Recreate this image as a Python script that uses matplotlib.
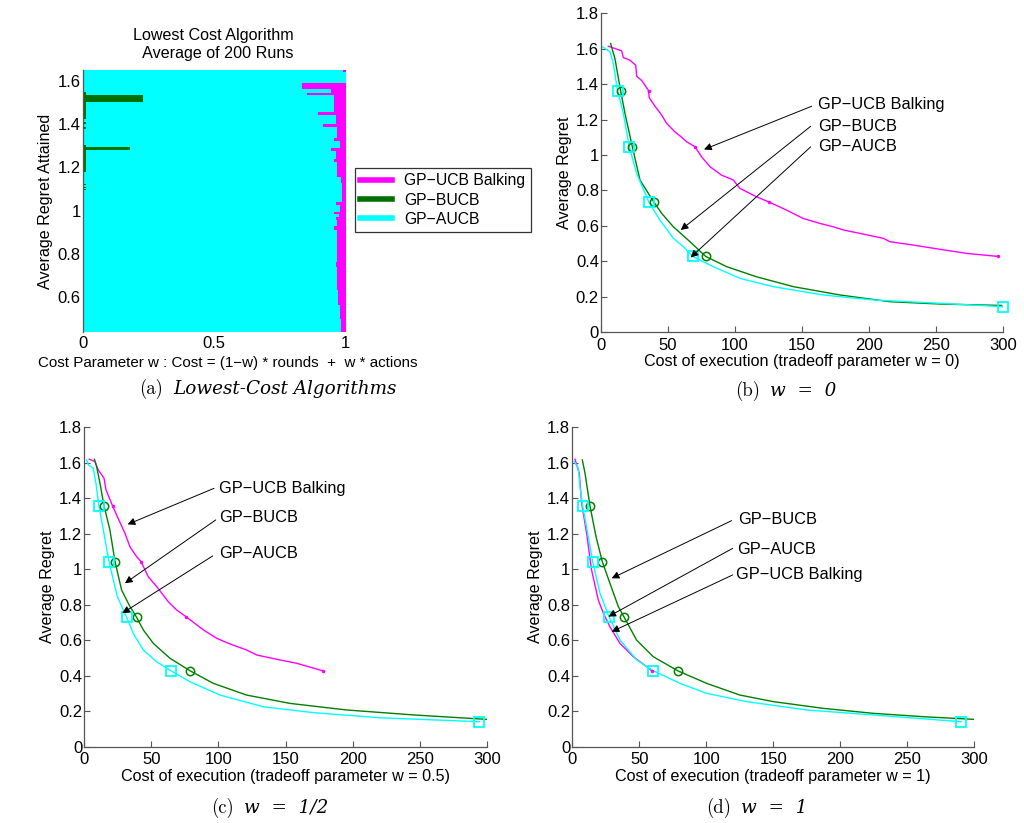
import matplotlib
matplotlib.use("Agg")
import matplotlib.pyplot as plt
import numpy as np
from matplotlib.colors import ListedColormap
from matplotlib.lines import Line2D
from matplotlib.ticker import FixedLocator, FormatStrFormatter

plt.rcParams['font.family'] = ['Liberation Sans', 'DejaVu Sans']

MAGENTA = '#ff00ff'
GREEN = '#008000'
CYAN = '#00ffff'
names = ['GP\u2212UCB Balking', 'GP\u2212BUCB', 'GP\u2212AUCB']

# ---- (a) lowest-cost map: rows of regret, w where magenta starts / green ends
regret_min, regret_max = 0.438, 1.651
magenta_rows = [  # (regret lo, regret hi, w where balking becomes cheapest)
    (1.643, 1.651, 0.990), (1.565, 1.590, 0.835), (1.545, 1.565, 0.943),
    (1.535, 1.545, 0.854), (1.460, 1.535, 0.953), (1.443, 1.460, 0.894),
    (1.400, 1.443, 0.962), (1.386, 1.400, 0.914), (1.337, 1.386, 0.968),
    (1.324, 1.337, 0.953), (1.290, 1.324, 0.978), (1.277, 1.290, 0.943),
    (1.237, 1.277, 0.962), (1.225, 1.237, 0.953), (1.180, 1.225, 0.968),
    (1.156, 1.180, 0.970), (1.130, 1.156, 0.981), (1.040, 1.130, 0.986),
    (1.026, 1.040, 0.962), (0.994, 1.026, 0.979), (0.985, 0.994, 0.955),
    (0.970, 0.985, 0.975), (0.956, 0.970, 0.962), (0.930, 0.956, 0.970),
    (0.910, 0.930, 0.955), (0.850, 0.910, 0.968), (0.760, 0.850, 0.966),
    (0.740, 0.760, 0.962), (0.630, 0.740, 0.966), (0.560, 0.630, 0.972),
    (0.500, 0.560, 0.978), (0.438, 0.500, 0.984),
]
green_rows = [  # (regret lo, regret hi, w up to which BUCB is cheapest)
    (1.538, 1.549, 0.010), (1.503, 1.538, 0.229), (1.425, 1.503, 0.010),
    (1.400, 1.410, 0.010), (1.380, 1.386, 0.008), (1.294, 1.304, 0.010),
    (1.279, 1.294, 0.178), (1.179, 1.279, 0.010), (1.118, 1.125, 0.008),
    (1.103, 1.110, 0.008), (1.094, 1.098, 0.008),
]

# ---- (b) w = 0
b_balk_cost = [5.5, 15.4, 16.7, 21.6, 25.9, 26.6, 30.4, 35.3, 36.1, 40.3, 45.3, 49, 55.2,
               60.2, 64, 70.2, 75, 81.4, 90, 98.8, 103.7, 116, 126, 138.6, 151, 163.5,
               173.4, 181, 193.3, 210.7, 215.6, 233, 253, 273, 296]
b_balk_regret = [1.614, 1.588, 1.55, 1.535, 1.507, 1.445, 1.42, 1.366, 1.322, 1.275, 1.225,
                 1.178, 1.13, 1.10, 1.074, 1.046, 0.99, 0.933, 0.886, 0.858, 0.811, 0.764,
                 0.732, 0.688, 0.641, 0.613, 0.594, 0.576, 0.557, 0.529, 0.51, 0.491, 0.467,
                 0.444, 0.427]
b_bucb_cost = [7.2, 10.4, 14.7, 17.9, 23.4, 29.1, 39.6, 45.3, 54, 66.4, 78.1, 93.8, 116,
               143.6, 178.4, 215.7, 253, 299]
b_bucb_regret = [1.629, 1.544, 1.36, 1.234, 1.046, 0.858, 0.732, 0.670, 0.594, 0.51, 0.427,
                 0.369, 0.312, 0.256, 0.209, 0.171, 0.158, 0.150]
b_aucb_cost = [1.2, 6.7, 9.2, 12.4, 16.7, 21.1, 26.6, 35.8, 44, 54, 61.5, 68.4, 83.8,
               103.7, 128.6, 166, 203, 253, 299.8]
b_aucb_regret = [1.61, 1.582, 1.516, 1.36, 1.234, 1.046, 0.895, 0.732, 0.632, 0.529, 0.482,
                 0.427, 0.369, 0.303, 0.256, 0.209, 0.181, 0.162, 0.143]
b_balk_marks = ([35.8, 70.1, 125.6, 296], [1.36, 1.046, 0.732, 0.427])
b_bucb_marks = ([14.7, 23.4, 39.6, 78.1], [1.36, 1.046, 0.732, 0.427])
b_aucb_marks = ([12.4, 21.1, 35.8, 68.4, 299.8], [1.36, 1.046, 0.732, 0.427, 0.143])

# ---- (c) w = 0.5
c_balk_cost = [3.7, 7.95, 10.4, 14.7, 16.2, 21.1, 24.6, 30.3, 34, 39, 42.3, 47.7, 54, 62.6,
               68.9, 75.8, 88.8, 98.7, 108.6, 121, 128.5, 145.9, 158.4, 177.7]
c_balk_regret = [1.62, 1.607, 1.56, 1.513, 1.447, 1.357, 1.297, 1.203, 1.127, 1.071, 1.043,
                 0.958, 0.902, 0.817, 0.770, 0.733, 0.658, 0.611, 0.579, 0.545, 0.517, 0.489,
                 0.470, 0.428]
c_bucb_cost = [7.5, 9.2, 11.7, 14.7, 19.1, 22.9, 27.8, 34.1, 39, 44, 51.5, 63.9, 78.8, 96.2,
               121, 153.4, 195.6, 245.4, 300]
c_bucb_regret = [1.62, 1.578, 1.484, 1.357, 1.221, 1.043, 0.883, 0.789, 0.729, 0.658, 0.582,
                 0.498, 0.428, 0.357, 0.291, 0.244, 0.207, 0.179, 0.154]
c_aucb_cost = [1.7, 3, 6.7, 8.7, 10.9, 14.2, 18.4, 24.6, 31.6, 36.5, 44, 53.9, 64.6, 78.8,
               101.2, 133.5, 170.8, 220.5, 294.6]
c_aucb_regret = [1.616, 1.588, 1.569, 1.484, 1.357, 1.221, 1.043, 0.846, 0.729, 0.639, 0.545,
                 0.479, 0.428, 0.366, 0.291, 0.225, 0.192, 0.163, 0.141]
c_balk_marks = ([21.1, 42.3, 75.8, 177.7], [1.357, 1.043, 0.733, 0.428])
c_bucb_marks = ([14.7, 22.9, 39, 78.8], [1.357, 1.043, 0.729, 0.428])
c_aucb_marks = ([10.9, 18.4, 31.6, 64.6, 294.6], [1.357, 1.043, 0.729, 0.428, 0.141])

# ---- (d) w = 1
d_balk_cost = [2, 5.2, 7, 10.7, 14.4, 19.4, 23.2, 28.1, 35.6, 45.6, 55.5, 59.3]
d_balk_regret = [1.62, 1.541, 1.372, 1.203, 0.996, 0.827, 0.752, 0.676, 0.582, 0.507, 0.451,
                 0.428]
d_bucb_cost = [7.5, 9.5, 13.2, 17.7, 22.4, 28.1, 34.4, 38.8, 48, 60.5, 78.7, 100.3, 125.2,
               150.1, 187.5, 224.8, 262.2, 300]
d_bucb_regret = [1.616, 1.541, 1.357, 1.184, 1.043, 0.921, 0.789, 0.729, 0.601, 0.507, 0.428,
                 0.357, 0.291, 0.254, 0.216, 0.188, 0.169, 0.154]
d_aucb_cost = [1.5, 4.5, 5.7, 7.7, 11.5, 15.2, 20.7, 27.6, 35.6, 48.1, 60.5, 80.4, 100.3,
               130.2, 175, 224.8, 290.3]
d_aucb_regret = [1.607, 1.569, 1.466, 1.357, 1.203, 1.043, 0.864, 0.729, 0.601, 0.489, 0.428,
                 0.357, 0.301, 0.254, 0.207, 0.179, 0.141]
d_balk_marks = ([59.3], [0.428])
d_bucb_marks = ([13.2, 22.4, 38.8, 78.7], [1.357, 1.043, 0.729, 0.428])
d_aucb_marks = ([7.7, 15.2, 27.6, 60.5, 290.3], [1.357, 1.043, 0.729, 0.428, 0.141])

W, H = 1024, 823
TICK_FS = 12
LABEL_FS = 11.6
fig = plt.figure(figsize=(W / 100, H / 100), dpi=100)


def px_axes(left, top, right, bottom):
    return fig.add_axes([left / W, 1 - bottom / H, (right - left) / W, (bottom - top) / H])


def style_axes(ax):
    for s in ['top', 'right']:
        ax.spines[s].set_visible(False)
    for s in ['left', 'bottom']:
        ax.spines[s].set_color('#555555')
        ax.spines[s].set_linewidth(0.9)
    ax.tick_params(direction='in', length=4, width=0.8, color='#555555',
                   labelsize=TICK_FS, labelcolor='black', pad=1.5)
    ax.tick_params(axis='x', pad=4)


# ---- panel (a)
ax = px_axes(82.7, 70, 345, 332)
w_grid = np.linspace(0, 1, 401)
r_grid = np.linspace(regret_min, regret_max, 700)
cells = np.full((len(r_grid), len(w_grid)), 2)
for lo, hi, w_end in green_rows:
    rows = (r_grid >= lo) & (r_grid < hi)
    cells[np.ix_(rows, w_grid <= w_end)] = 1
for lo, hi, w_start in magenta_rows:
    rows = (r_grid >= lo) & (r_grid <= hi)
    cells[np.ix_(rows, w_grid >= w_start)] = 0
ax.imshow(cells, cmap=ListedColormap([MAGENTA, '#007000', CYAN]), vmin=0, vmax=2,
          origin='lower', extent=[0, 1, regret_min, regret_max], aspect='auto',
          interpolation='nearest')
ax.set_xlim(0, 1)
ax.set_ylim(regret_min, regret_max)
style_axes(ax)
ax.spines['bottom'].set_visible(False)
ax.xaxis.set_major_locator(FixedLocator([0, 0.5, 1]))
ax.yaxis.set_major_locator(FixedLocator([0.6, 0.8, 1.0, 1.2, 1.4, 1.6]))
ax.xaxis.set_major_formatter(FormatStrFormatter('%g'))
ax.yaxis.set_major_formatter(FormatStrFormatter('%g'))
ax.tick_params(length=0)
ax.tick_params(axis='x', pad=3)
ax.set_title('Lowest Cost Algorithm\n  Average of 200 Runs', fontsize=LABEL_FS, pad=9,
             linespacing=1.25)
ax.set_xlabel('Cost Parameter w : Cost = (1\u2212w) * rounds  +  w * actions', fontsize=10.9)
ax.xaxis.set_label_coords(0.552, -0.09)
ax.set_ylabel('Average Regret Attained', fontsize=LABEL_FS, labelpad=3)
handles = [Line2D([], [], color=c, lw=4) for c in [MAGENTA, '#007000', CYAN]]
leg = fig.legend(handles, names, loc='upper left', bbox_to_anchor=(355 / W, 1 - 168 / H),
                 fontsize=11.3, frameon=True, fancybox=False, edgecolor='black',
                 handlelength=2.0, borderpad=0.35, labelspacing=0.27, handletextpad=0.8,
                 borderaxespad=0)
leg.get_frame().set_linewidth(0.9)


def curve_panel(box, curves, marks, notes, xlabel):
    ax = px_axes(*box)
    colors = [MAGENTA, GREEN, CYAN]
    for (cost, regret), c in zip(curves, colors):
        ax.plot(cost, regret, color=c, lw=1.0)
    mk = [dict(marker='.', ms=3, mfc=MAGENTA, mec=MAGENTA),
          dict(marker='o', ms=6, mfc='none', mec=GREEN, mew=1.1),
          dict(marker='s', ms=7, mfc='none', mec=CYAN, mew=1.3)]
    for (cost, regret), style in zip(marks, mk):
        ax.plot(cost, regret, ls='none', clip_on=False, **style)
    for label, tx, ty, sx, sy, ex, ey in notes:
        ax.text(tx, ty, label, fontsize=11.8, ha='left', va='center')
        ax.annotate('', xy=(ex, ey), xytext=(sx, sy),
                    arrowprops=dict(arrowstyle='-|>', color='black', lw=0.7,
                                    mutation_scale=11, shrinkA=0, shrinkB=0))
    ax.set_xlim(0, 300)
    ax.set_ylim(0, 1.8)
    style_axes(ax)
    ax.xaxis.set_major_locator(FixedLocator(np.arange(0, 301, 50)))
    ax.yaxis.set_major_locator(FixedLocator(np.arange(0, 1.81, 0.2)))
    ax.xaxis.set_major_formatter(FormatStrFormatter('%g'))
    ax.yaxis.set_major_formatter(FormatStrFormatter('%g'))
    ax.set_xlabel(xlabel, fontsize=LABEL_FS, labelpad=1)
    ax.set_ylabel('Average Regret', fontsize=LABEL_FS, labelpad=3)
    return ax


curve_panel((601, 13.3, 1003, 332),
            [(b_balk_cost, b_balk_regret), (b_bucb_cost, b_bucb_regret),
             (b_aucb_cost, b_aucb_regret)],
            [b_balk_marks, b_bucb_marks, b_aucb_marks],
            [(names[0], 161.7, 1.285, 157.2, 1.275, 76.9, 1.031),
             (names[1], 161.7, 1.162, 156.5, 1.162, 59.5, 0.576),
             (names[2], 161.7, 1.046, 156.5, 1.046, 66.9, 0.421)],
            'Cost of execution (tradeoff parameter w = 0)')

curve_panel((84.3, 427.3, 486.7, 746.7),
            [(c_balk_cost, c_balk_regret), (c_bucb_cost, c_bucb_regret),
             (c_aucb_cost, c_aucb_regret)],
            [c_balk_marks, c_bucb_marks, c_aucb_marks],
            [(names[0], 100.7, 1.456, 96.7, 1.456, 32.3, 1.253),
             (names[1], 100.7, 1.293, 98.0, 1.278, 30.3, 0.921),
             (names[2], 100.7, 1.090, 95.7, 1.075, 28.3, 0.752)],
            'Cost of execution (tradeoff parameter w = 0.5)')

curve_panel((572.3, 427.3, 974, 746.7),
            [(d_balk_cost, d_balk_regret), (d_bucb_cost, d_bucb_regret),
             (d_aucb_cost, d_aucb_regret)],
            [d_balk_marks, d_bucb_marks, d_aucb_marks],
            [(names[1], 124.0, 1.278, 119.0, 1.274, 29.4, 0.949),
             (names[2], 122.8, 1.112, 119.8, 1.118, 26.9, 0.733),
             (names[0], 122.3, 0.973, 119.8, 0.968, 29.4, 0.648)],
            'Cost of execution (tradeoff parameter w = 1)')

# ---- sub-figure captions
renderer = fig.canvas.get_renderer()


def caption(xc, yc, head, body):
    t1 = fig.text(0, 1 - yc / H, head, family='cmr10', fontsize=13.5, va='center')
    t2 = fig.text(0, 1 - yc / H, body, family='DejaVu Serif', style='italic',
                  fontsize=13.2, va='center', fontweight='light')
    w1 = t1.get_window_extent(renderer).width
    w2 = t2.get_window_extent(renderer).width
    gap = 10
    x0 = xc - (w1 + gap + w2) / 2
    t1.set_x(x0 / W)
    t2.set_x((x0 + w1 + gap) / W)


caption(268, 389, '(a)', 'Lowest-Cost Algorithms')
caption(786, 391, '(b)', 'w  =  0')
caption(270, 808, '(c)', 'w  =  1/2')
caption(757, 808, '(d)', 'w  =  1')

fig.savefig('out.png', dpi=100, facecolor='white')
